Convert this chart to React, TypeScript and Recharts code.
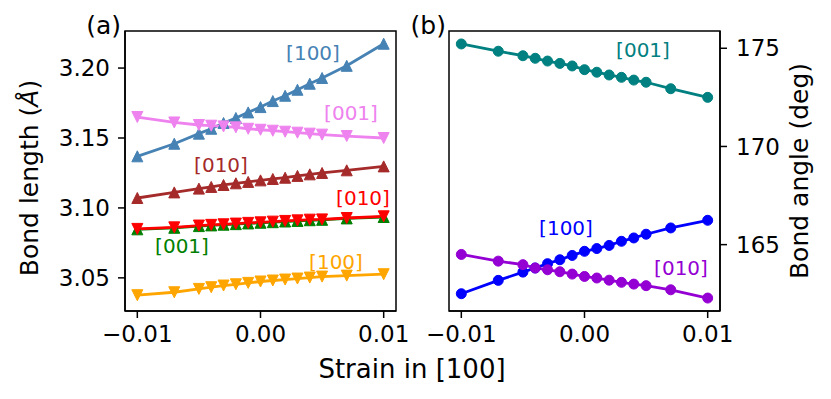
import React from 'react';
import { LineChart, Line, XAxis, YAxis, ReferenceArea } from 'recharts';

const FONT = '"DejaVu Sans", sans-serif';

// strain in [100]
const STRAIN = [-0.01, -0.007, -0.005, -0.004, -0.003, -0.002, -0.001, 0, 0.001, 0.002, 0.003, 0.004, 0.005, 0.007, 0.01];

// bond lengths (Å)
const LEN_A100 = [3.1369, 3.1459, 3.1531, 3.1566, 3.1607, 3.1643, 3.1683, 3.1721, 3.1764, 3.1802, 3.1845, 3.1888, 3.1929, 3.2016, 3.2174];
const LEN_A001 = [3.165, 3.1611, 3.1593, 3.1588, 3.1583, 3.1576, 3.1566, 3.1559, 3.1552, 3.1545, 3.1538, 3.1531, 3.1524, 3.1514, 3.15];
const LEN_A010 = [3.1071, 3.1111, 3.1138, 3.115, 3.1164, 3.1176, 3.1186, 3.1197, 3.1207, 3.1216, 3.1229, 3.124, 3.125, 3.1269, 3.1297];
const LEN_B010 = [3.085, 3.0861, 3.0874, 3.0879, 3.0883, 3.0888, 3.0893, 3.0897, 3.0902, 3.0907, 3.0911, 3.0916, 3.0918, 3.0928, 3.094];
const LEN_B001 = [3.0847, 3.0858, 3.087, 3.0875, 3.088, 3.0884, 3.0889, 3.0894, 3.0898, 3.0903, 3.0907, 3.0912, 3.0915, 3.0925, 3.0935];
const LEN_B100 = [3.0376, 3.0397, 3.0421, 3.0433, 3.0445, 3.0454, 3.0464, 3.0474, 3.0481, 3.0488, 3.0495, 3.0502, 3.0509, 3.0516, 3.0526];

// bond angles (deg)
const ANG_001 = [175.22, 174.85, 174.62, 174.49, 174.35, 174.23, 174.1, 173.91, 173.78, 173.64, 173.52, 173.38, 173.27, 172.94, 172.5];
const ANG_100 = [162.5, 163.18, 163.6, 163.81, 164.03, 164.23, 164.45, 164.66, 164.8, 164.96, 165.17, 165.34, 165.53, 165.85, 166.24];
const ANG_010 = [164.5, 164.16, 163.98, 163.81, 163.72, 163.62, 163.5, 163.38, 163.3, 163.19, 163.08, 162.99, 162.91, 162.7, 162.28];

const X_TICKS = [-0.01, 0, 0.01];
const LEN_TICKS = [3.05, 3.1, 3.15, 3.2];
const ANG_TICKS = [165, 170, 175];

const lengthData = STRAIN.map((s, i) => ({
  strain: s,
  a100: LEN_A100[i],
  a001: LEN_A001[i],
  a010: LEN_A010[i],
  b010: LEN_B010[i],
  b001: LEN_B001[i],
  b100: LEN_B100[i],
}));

const angleData = STRAIN.map((s, i) => ({
  strain: s,
  d001: ANG_001[i],
  d100: ANG_100[i],
  d010: ANG_010[i],
}));

const X_DOMAIN: [number, number] = [-0.011, 0.011];
const LEN_DOMAIN: [number, number] = [3.0263, 3.2265];
const ANG_DOMAIN: [number, number] = [161.62, 175.88];

const fmtX = (v: number) => (v < 0 ? '\u2212' : '') + Math.abs(v).toFixed(2);

const TRI = 5.5;

const triangle = (color: string, up: boolean) => (props: any) => {
  const { cx, cy, index } = props;
  if (cx == null || cy == null) return <g key={index} />;
  const d = up
    ? `M${cx},${cy - TRI} L${cx - TRI},${cy + TRI} L${cx + TRI},${cy + TRI} Z`
    : `M${cx},${cy + TRI} L${cx - TRI},${cy - TRI} L${cx + TRI},${cy - TRI} Z`;
  return <path key={index} d={d} fill={color} stroke={color} strokeWidth={1} />;
};

const circle = (color: string) => (props: any) => {
  const { cx, cy, index } = props;
  if (cx == null || cy == null) return <g key={index} />;
  return <circle key={index} cx={cx} cy={cy} r={5} fill={color} stroke={color} strokeWidth={1} />;
};

const axisLine = { stroke: '#000', strokeWidth: 1.5 };
const tickLine = { stroke: '#000', strokeWidth: 1.5 };
const tickStyle = { fill: '#000', fontSize: 23, fontFamily: FONT };

const lenSeries = [
  { key: 'b100', color: '#ffa500', up: false },
  { key: 'b001', color: '#008000', up: true },
  { key: 'b010', color: '#ff0000', up: false },
  { key: 'a010', color: '#a52a2a', up: true },
  { key: 'a100', color: '#4682b4', up: true },
  { key: 'a001', color: '#ee82ee', up: false },
];

const angSeries = [
  { key: 'd001', color: '#008080' },
  { key: 'd100', color: '#0000ff' },
  { key: 'd010', color: '#9400d3' },
];

const annotations = [
  { text: '[100]', x: 313, y: 53, color: '#4682b4' },
  { text: '[001]', x: 351, y: 113, color: '#ee82ee' },
  { text: '[010]', x: 221, y: 165, color: '#a52a2a' },
  { text: '[010]', x: 363, y: 198, color: '#ff0000' },
  { text: '[001]', x: 182, y: 246, color: '#008000' },
  { text: '[100]', x: 336, y: 262, color: '#ffa500' },
  { text: '[001]', x: 643, y: 50, color: '#008080' },
  { text: '[100]', x: 566, y: 228, color: '#0000ff' },
  { text: '[010]', x: 681, y: 268, color: '#9400d3' },
];

export default function App() {
  return (
    <div style={{ position: 'absolute', left: 0, top: 0, width: 831, height: 399, background: '#fff', fontFamily: FONT }}>
      <div style={{ position: 'absolute', left: 0, top: 0 }}>
        <LineChart width={420} height={399} data={lengthData} margin={{ top: 31, right: 24, left: 0, bottom: 0 }}>
          <XAxis
            xAxisId="b"
            type="number"
            dataKey="strain"
            domain={X_DOMAIN}
            ticks={X_TICKS}
            tickFormatter={fmtX}
            height={88}
            tickSize={7}
            tickMargin={8}
            axisLine={axisLine}
            tickLine={tickLine}
            tick={tickStyle}
            allowDataOverflow
          />
          <YAxis
            yAxisId="l"
            type="number"
            domain={LEN_DOMAIN}
            ticks={LEN_TICKS}
            tickFormatter={(v: number) => v.toFixed(2)}
            width={125}
            tickSize={7}
            tickMargin={8}
            axisLine={axisLine}
            tickLine={tickLine}
            tick={tickStyle}
            allowDataOverflow
          />
          <ReferenceArea
            xAxisId="b"
            yAxisId="l"
            x1={X_DOMAIN[0]}
            x2={X_DOMAIN[1]}
            y1={LEN_DOMAIN[0]}
            y2={LEN_DOMAIN[1]}
            fill="none"
            fillOpacity={0}
            stroke="#000"
            strokeWidth={1.5}
            ifOverflow="visible"
          />
          {lenSeries.map((s) => (
            <Line
              key={s.key}
              xAxisId="b"
              yAxisId="l"
              dataKey={s.key}
              stroke={s.color}
              strokeWidth={2.8}
              dot={triangle(s.color, s.up)}
              activeDot={false}
              isAnimationActive={false}
            />
          ))}
        </LineChart>
      </div>
      <div style={{ position: 'absolute', left: 420, top: 0 }}>
        <LineChart width={411} height={399} data={angleData} margin={{ top: 31, right: 0, left: 29, bottom: 0 }}>
          <XAxis
            xAxisId="b"
            type="number"
            dataKey="strain"
            domain={X_DOMAIN}
            ticks={X_TICKS}
            tickFormatter={fmtX}
            height={88}
            tickSize={7}
            tickMargin={8}
            axisLine={axisLine}
            tickLine={tickLine}
            tick={tickStyle}
            allowDataOverflow
          />
          <YAxis
            yAxisId="r"
            orientation="right"
            type="number"
            domain={ANG_DOMAIN}
            ticks={ANG_TICKS}
            width={111}
            tickSize={7}
            tickMargin={9}
            axisLine={axisLine}
            tickLine={tickLine}
            tick={tickStyle}
            allowDataOverflow
          />
          <ReferenceArea
            xAxisId="b"
            yAxisId="r"
            x1={X_DOMAIN[0]}
            x2={X_DOMAIN[1]}
            y1={ANG_DOMAIN[0]}
            y2={ANG_DOMAIN[1]}
            fill="none"
            fillOpacity={0}
            stroke="#000"
            strokeWidth={1.5}
            ifOverflow="visible"
          />
          {angSeries.map((s) => (
            <Line
              key={s.key}
              xAxisId="b"
              yAxisId="r"
              dataKey={s.key}
              stroke={s.color}
              strokeWidth={2.8}
              dot={circle(s.color)}
              activeDot={false}
              isAnimationActive={false}
            />
          ))}
        </LineChart>
      </div>
      <svg width={831} height={399} style={{ position: 'absolute', left: 0, top: 0, pointerEvents: 'none' }}>
        {annotations.map((a, i) => (
          <text key={i} x={a.x} y={a.y} fill={a.color} fontSize={20} fontFamily={FONT} textAnchor="middle" dominantBaseline="central">
            {a.text}
          </text>
        ))}
        <text x={121} y={34} fontSize={25} fontFamily={FONT} textAnchor="end" fill="#000">(a)</text>
        <text x={446} y={34} fontSize={25} fontFamily={FONT} textAnchor="end" fill="#000">(b)</text>
        <text x={412} y={378} fontSize={26} fontFamily={FONT} textAnchor="middle" fill="#000">Strain in [100]</text>
        <text x={38} y={178} fontSize={25} fontFamily={FONT} textAnchor="middle" fill="#000" transform="rotate(-90 38 178)">
          Bond length (<tspan fontStyle="italic">Å</tspan>)
        </text>
        <text x={808} y={171} fontSize={25} fontFamily={FONT} textAnchor="middle" fill="#000" transform="rotate(-90 808 171)">
          Bond angle (deg)
        </text>
      </svg>
    </div>
  );
}
